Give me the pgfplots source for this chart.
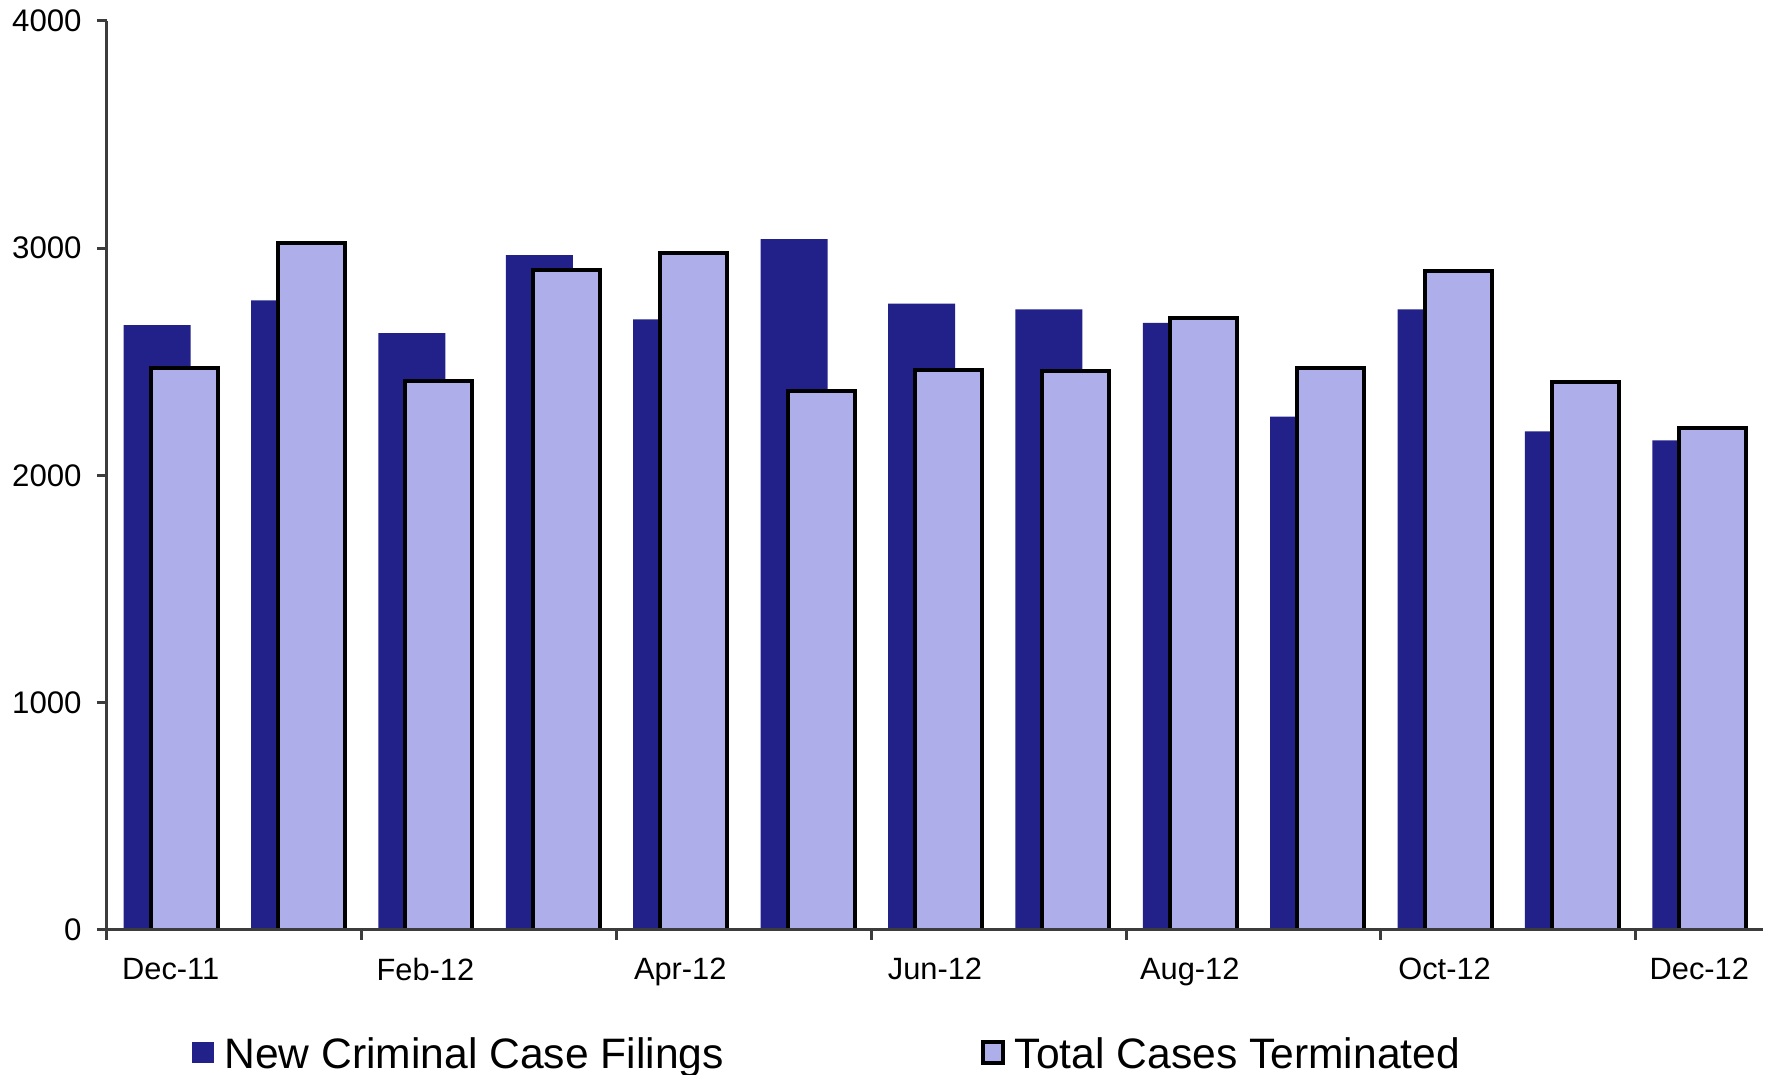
\documentclass[border=0pt]{standalone}
\usepackage{pgfplots}
\pgfplotsset{compat=1.18}
\usepackage{fontspec}
\setmainfont{Liberation Sans}
\definecolor{darkbar}{RGB}{33,33,137}
\definecolor{lightbar}{RGB}{174,174,235}
\definecolor{axgray}{RGB}{60,60,60}
\begin{document}
\begin{tikzpicture}
\path[use as bounding box] (-53.5pt,-72.5pt) rectangle (833pt,465pt);
\begin{axis}[
  at={(0,0)}, anchor=south west,
  scale only axis, width=828pt, height=454.5pt,
  xmin=-0.5, xmax=12.5, ymin=0, ymax=4000,
  axis lines*=left,
  axis on top,
  axis line style={draw=axgray, line width=1.5pt},
  tick align=outside,
  major tick length=5pt,
  tick style={draw=axgray, line width=1.5pt},
  xtick={-0.5,1.5,...,11.5}, xticklabels={},
  extra x ticks={0,2,4,6,8,10,12},
  extra x tick labels={Dec-11,Feb-12,Apr-12,Jun-12,Aug-12,Oct-12,Dec-12},
  extra x tick style={major tick length=0pt},
  xticklabel style={font=\fontsize{15.4pt}{18pt}\selectfont, anchor=north, inner sep=0pt, yshift=-14pt},
  ytick={0,1000,2000,3000,4000},
  yticklabel style={font=\fontsize{15.6pt}{18pt}\selectfont, anchor=east, inner sep=0pt, xshift=-7.5pt},
  /pgf/number format/assume math mode=true,
  /pgf/number format/1000 sep={},
  ybar, bar width=0.526,
  legend columns=2,
  legend style={at={(axis description cs:0.0513,-0.1177)}, anchor=north west,
    draw=none, fill=none, inner sep=0pt,
    font=\fontsize{21.3pt}{25pt}\selectfont,
    nodes={inner sep=0pt},
    /tikz/every odd column/.style={column sep=5pt},
    /tikz/every even column/.style={column sep=128.5pt}},
]
\addplot[bar shift=-0.106, fill=darkbar, draw=none,
  legend image code/.code={\fill[darkbar] (0pt,-4.5pt) rectangle (11pt,6pt);}]
  coordinates {(0,2662) (1,2771) (2,2627) (3,2970) (4,2687) (5,3040) (6,2756)
               (7,2731) (8,2672) (9,2259) (10,2731) (11,2194) (12,2154)};
\addlegendentry{New Criminal Case Filings}
\addplot[bar shift=0.106, fill=lightbar, draw=black, line width=2pt,
  legend image code/.code={\draw[fill=lightbar, draw=black, line width=2pt] (1pt,-4.5pt) rectangle (11pt,6pt);}]
  coordinates {(0,2475) (1,3025) (2,2416) (3,2905) (4,2980) (5,2370) (6,2466)
               (7,2461) (8,2695) (9,2472) (10,2900) (11,2412) (12,2208)};
\addlegendentry{Total Cases Terminated}
\end{axis}
\end{tikzpicture}
\end{document}
